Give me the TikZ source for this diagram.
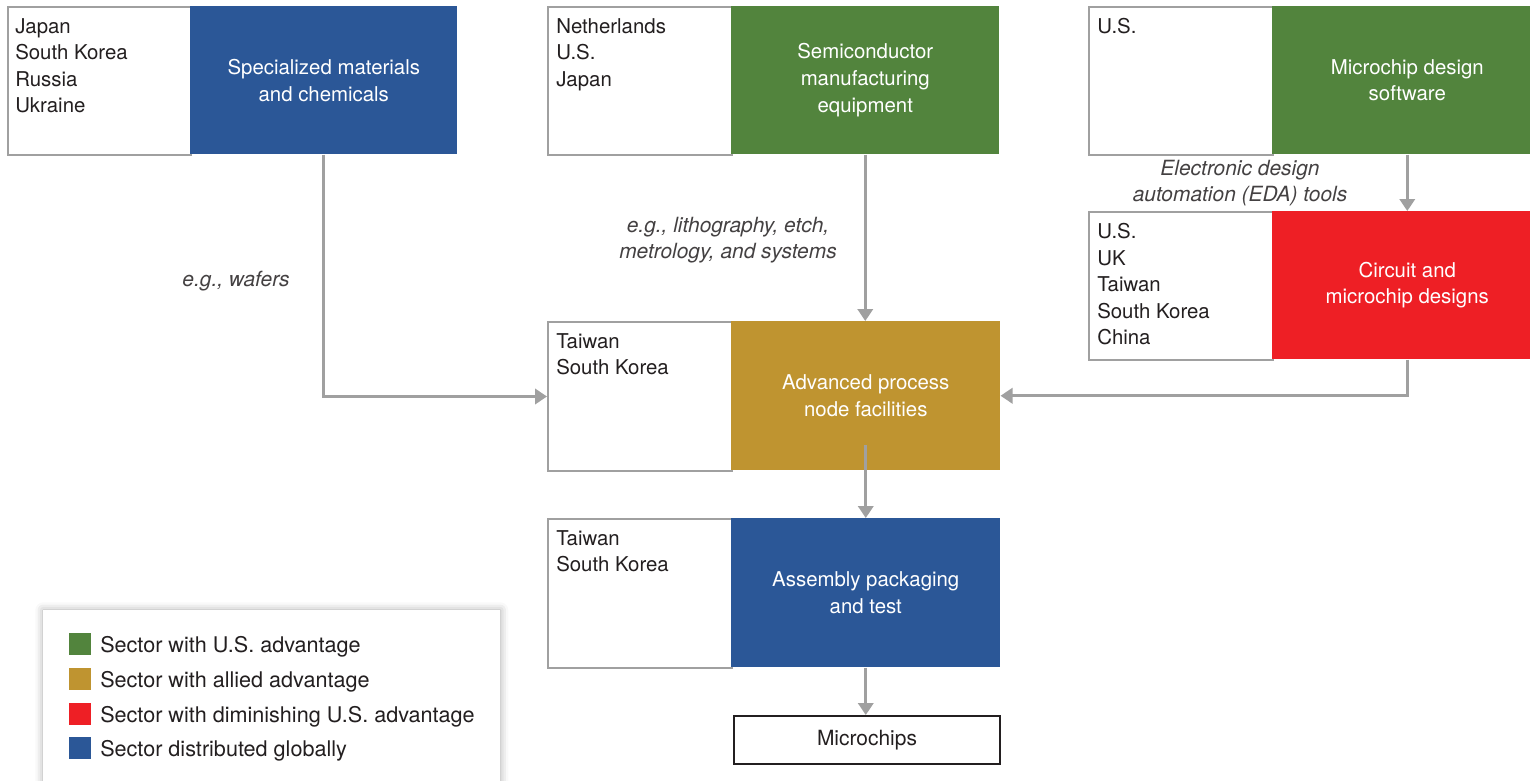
\documentclass[tikz,border=0pt]{standalone}
\usepackage{fontspec}
\setmainfont{TeX Gyre Heros}
\usetikzlibrary{arrows.meta,calc,shadows.blur}
\definecolor{cblue}{HTML}{2B5797}
\definecolor{cgreen}{HTML}{52843D}
\definecolor{cgold}{HTML}{BF9430}
\definecolor{cred}{HTML}{EE1F25}
\definecolor{cgray}{HTML}{A0A0A0}
\definecolor{ctext}{HTML}{231F20}
\tikzset{
  wbox/.style={draw=cgray, line width=1.5pt, fill=white, rectangle, anchor=north west, inner sep=0pt, minimum width=184*0.75pt, minimum height=148*0.75pt},
  sbox/.style={fill=#1, draw=none, rectangle, anchor=north west, inner sep=0pt, minimum width=268*0.75pt, minimum height=148*0.75pt, text=white, align=center, font=\fontsize{15.3pt}{20pt}\selectfont},
  ctry/.style={anchor=north west, inner sep=0pt, align=left, text=ctext, font=\fontsize{15.3pt}{19.9pt}\selectfont},
  note/.style={inner sep=0pt, align=center, text=ctext!85, font=\fontsize{15.7pt}{19pt}\selectfont\itshape},
  arr/.style={draw=cgray, line width=2pt, -{Triangle[length=9pt,width=11.5pt]}},
  swatch/.style={fill=#1, draw=none, minimum size=22*0.75pt, inner sep=0pt, anchor=west},
  legtext/.style={anchor=west, inner sep=0pt, text=ctext, font=\fontsize{16.2pt}{18pt}\selectfont},
}
\begin{document}
\begin{tikzpicture}[x=0.75pt, y=-0.75pt]
\useasboundingbox (0,0) rectangle (1530,781);
\clip (0,0) rectangle (1530,781);
% row 1
\node[wbox, minimum width=183*0.75pt] (w1) at (7,6) {};
\node[sbox=cblue, minimum width=267*0.75pt] (c1) at (190,6) {Specialized materials\\and chemicals};
\node[ctry] (t1) at (15,18) {Japan\\South Korea\\Russia\\Ukraine};
\node[wbox] (w2) at (547,6) {};
\node[sbox=cgreen] (c2) at (731,6) {Semiconductor\\manufacturing\\equipment};
\node[ctry] (t2) at (556,18) {Netherlands\\U.S.\\Japan};
\node[wbox] (w3) at (1088,6) {};
\node[sbox=cgreen, minimum width=270*0.75pt] (c3) at (1272,6) {Microchip design\\software};
\node[ctry] (t3) at (1097,18) {U.S.};
% circuit
\node[wbox] (w4) at (1088,211) {};
\node[sbox=cred, minimum width=270*0.75pt] (c4) at (1272,211) {Circuit and\\microchip designs};
\node[ctry] (t4) at (1097,223) {U.S.\\UK\\Taiwan\\South Korea\\China};
% advanced
\node[wbox, minimum height=149*0.75pt] (w5) at (547,321) {};
\node[sbox=cgold, minimum width=269*0.75pt, minimum height=149*0.75pt] (c5) at (731,321) {Advanced process\\node facilities};
\node[ctry] (t5) at (556,333) {Taiwan\\South Korea};
% assembly
\node[wbox, minimum height=149*0.75pt] (w6) at (547,518) {};
\node[sbox=cblue, minimum width=269*0.75pt, minimum height=149*0.75pt] (c6) at (731,518) {Assembly packaging\\and test};
\node[ctry] (t6) at (556,530) {Taiwan\\South Korea};
% microchips
\node[draw=ctext, line width=1.5pt, fill=white, anchor=north west, minimum width=266*0.75pt, minimum height=48*0.75pt, inner sep=0pt, text=ctext, font=\fontsize{15.7pt}{18pt}\selectfont] (mc) at (733,715) {Microchips};
% notes
\node[note] (n1) at (236,281) {e.g., wafers};
\node[note] (n2) at (728,240) {e.g., lithography, etch,\\metrology, and systems};
\node[note] (n3) at (1240,183) {Electronic design\\automation (EDA) tools};
% arrows
\draw[arr] (c1.south) |- (w5.west);
\draw[arr] (c2.south) -- (c2.south |- c5.north);
\draw[arr] (c3.south) -- (c4.north);
\draw[arr] (c4.south) |- (c5.east);
\draw[arr] ([yshift=19.5pt]c5.south) -- (c6.north);
\draw[arr] (c6.south) -- (c6.south |- mc.north);
% legend
\node[fill=white, draw=none, anchor=north west, minimum width=457*0.75pt, minimum height=190*0.75pt, inner sep=0pt,
  blur shadow={shadow xshift=0pt, shadow yshift=0pt, shadow blur radius=6pt, shadow opacity=35}] (leg) at (43,610) {};
\node[swatch=cgreen] (s1) at (69,644) {};
\node[legtext] (l1) at (100,647) {Sector with U.S. advantage};
\node[swatch=cgold] (s2) at (69,679) {};
\node[legtext] (l2) at (100,682) {Sector with allied advantage};
\node[swatch=cred] (s3) at (69,714) {};
\node[legtext] (l3) at (100,717) {Sector with diminishing U.S. advantage};
\node[swatch=cblue] (s4) at (69,748) {};
\node[legtext] (l4) at (100,751) {Sector distributed globally};
\end{tikzpicture}
\end{document}
